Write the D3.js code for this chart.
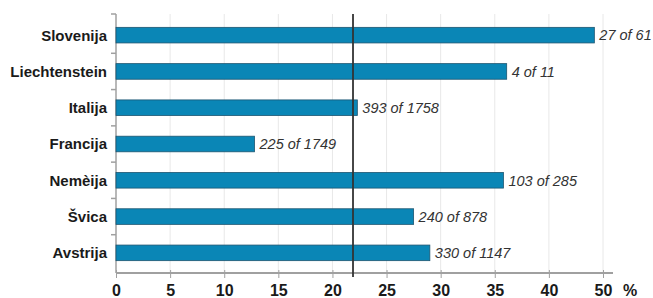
<!DOCTYPE html>
<html>
<head>
<meta charset="utf-8">
<script src="https://cdn.jsdelivr.net/npm/d3@7"></script>
<style>
  body { margin: 0; background: #fff; }
  text { font-family: "Liberation Sans", Arial, sans-serif; }
</style>
</head>
<body>
<div id="chart"></div>
<script>
// data
var countries = ["Slovenija", "Liechtenstein", "Italija", "Francija", "Nemèija", "Švica", "Avstrija"];
var percents = [44.2, 36.1, 22.3, 12.8, 35.8, 27.5, 29.0];
var barLabels = ["27 of 61", "4 of 11", "393 of 1758", "225 of 1749", "103 of 285", "240 of 878", "330 of 1147"];
var tickValues = [0, 5, 10, 15, 20, 25, 30, 35, 40, 45];
var tickLabels = ["0", "5", "10", "15", "20", "25", "30", "35", "40", "50"];
var average = 21.9;

var margin = {top: 14, right: 40, bottom: 25, left: 116};
var plotH = 259;

var svg = d3.select("#chart").append("svg")
  .attr("width", 653)
  .attr("height", 298)
  .append("g")
  .attr("transform", "translate(" + margin.left + "," + margin.top + ")");

var xScale = d3.scaleLinear().domain([0, 45]).range([0, 487]);
var yScale = d3.scaleBand().domain(countries).range([3, 257]).paddingInner(0.57).paddingOuter(0.285);

// gridlines
svg.append("g").selectAll("line")
  .data(tickValues.slice(1))
  .enter().append("line")
  .attr("x1", function (d) { return xScale(d); })
  .attr("x2", function (d) { return xScale(d); })
  .attr("y1", 0)
  .attr("y2", plotH)
  .attr("stroke", "#e8e8e8")
  .attr("stroke-width", 1);

// x axis
var xAxis = d3.axisBottom(xScale)
  .tickValues(tickValues)
  .tickFormat(function (d, i) { return tickLabels[i]; })
  .tickSize(5);

var gx = svg.append("g")
  .attr("transform", "translate(0," + plotH + ")")
  .call(xAxis);
gx.select(".domain").attr("d", "M0,0H497").attr("stroke", "#a0a0a0").attr("stroke-width", 2);
gx.selectAll(".tick line").attr("stroke", "#a0a0a0").attr("y1", -3);
gx.selectAll(".tick text")
  .attr("y", 23)
  .attr("dy", 0)
  .attr("font-size", 16)
  .attr("font-weight", "bold")
  .attr("fill", "#1a1a1a");

gx.append("text")
  .attr("x", 514)
  .attr("y", 23)
  .attr("text-anchor", "middle")
  .attr("font-size", 16)
  .attr("font-weight", "bold")
  .attr("fill", "#1a1a1a")
  .text("%");

// y axis
var rowTicks = countries.slice(1).map(function (d) { return yScale(d) - yScale.step() * yScale.paddingInner() / 2; });
rowTicks.unshift(0);
svg.append("g").selectAll("line")
  .data(rowTicks)
  .enter().append("line")
  .attr("x1", -5)
  .attr("x2", 0)
  .attr("y1", function (d) { return d; })
  .attr("y2", function (d) { return d; })
  .attr("stroke", "#a0a0a0")
  .attr("stroke-width", 1.5);
svg.append("line")
  .attr("x1", 0).attr("x2", 0)
  .attr("y1", 0).attr("y2", plotH)
  .attr("stroke", "#a0a0a0")
  .attr("stroke-width", 1.5);

svg.append("g").selectAll("text")
  .data(countries)
  .enter().append("text")
  .attr("x", -9)
  .attr("y", function (d) { return yScale(d) + yScale.bandwidth() / 2; })
  .attr("dy", "0.36em")
  .attr("text-anchor", "end")
  .attr("font-size", 15)
  .attr("font-weight", "bold")
  .attr("fill", "#1a1a1a")
  .text(function (d) { return d; });

// bars
svg.append("g").selectAll("rect")
  .data(countries)
  .enter().append("rect")
  .attr("x", 0)
  .attr("y", function (d) { return yScale(d); })
  .attr("width", function (d, i) { return xScale(percents[i]); })
  .attr("height", yScale.bandwidth())
  .attr("fill", "#0a86b6")
  .attr("stroke", "#1d5570")
  .attr("stroke-width", 0.8);

// value labels
svg.append("g").selectAll("text")
  .data(countries)
  .enter().append("text")
  .attr("x", function (d, i) { return xScale(percents[i]) + 5; })
  .attr("y", function (d) { return yScale(d) + yScale.bandwidth() / 2; })
  .attr("dy", "0.36em")
  .attr("font-size", 14.5)
  .attr("font-style", "italic")
  .attr("fill", "#333")
  .text(function (d, i) { return barLabels[i]; });

// average line
svg.append("line")
  .attr("x1", xScale(average)).attr("x2", xScale(average))
  .attr("y1", 0).attr("y2", plotH + 4)
  .attr("stroke", "#333")
  .attr("stroke-width", 1.8);
</script>
</body>
</html>
